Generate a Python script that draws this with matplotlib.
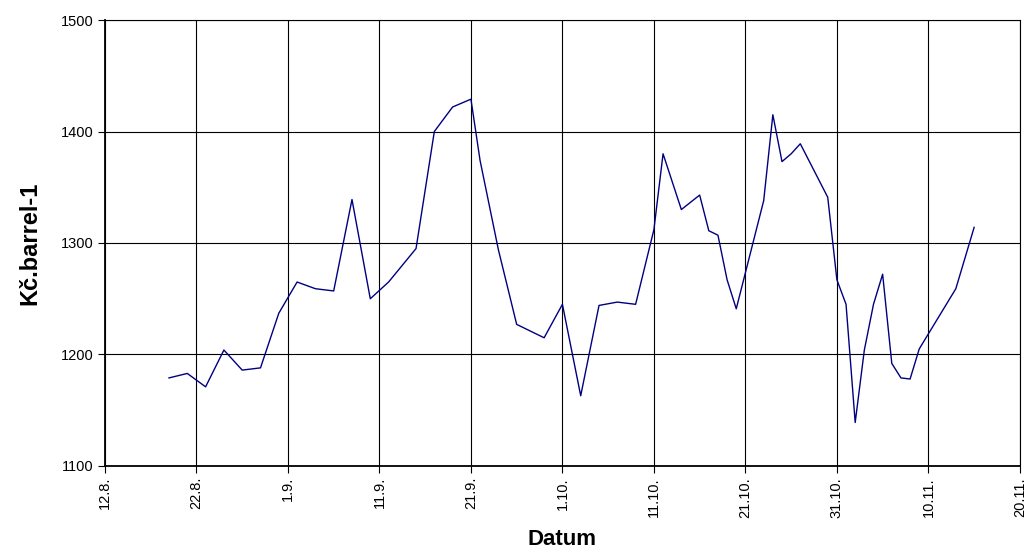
import datetime as dt

import matplotlib
matplotlib.use('Agg')
import matplotlib.pyplot as plt
import matplotlib.dates as mdates
from matplotlib.ticker import FuncFormatter, FixedLocator

plt.rcParams['font.family'] = ['Liberation Sans', 'DejaVu Sans']

# data (day.month.)
dates = ['19.8.', '21.8.', '23.8.', '25.8.', '27.8.', '29.8.', '31.8.',
         '2.9.', '4.9.', '6.9.', '8.9.', '10.9.', '12.9.', '15.9.', '17.9.',
         '19.9.', '21.9.', '22.9.', '24.9.', '26.9.', '29.9.',
         '1.10.', '3.10.', '5.10.', '7.10.', '9.10.', '11.10.', '12.10.',
         '14.10.', '16.10.', '17.10.', '18.10.', '19.10.', '20.10.',
         '23.10.', '24.10.', '25.10.', '26.10.', '27.10.', '30.10.', '31.10.',
         '1.11.', '2.11.', '3.11.', '4.11.', '5.11.', '6.11.', '7.11.',
         '8.11.', '9.11.', '13.11.', '15.11.']
prices = [1179, 1183, 1171, 1204, 1186, 1188, 1237,
          1265, 1259, 1257, 1339, 1250, 1265, 1295, 1400,
          1422, 1429, 1374, 1294, 1227, 1215,
          1245, 1163, 1244, 1247, 1245, 1312, 1380,
          1330, 1343, 1311, 1307, 1267, 1241,
          1338, 1415, 1373, 1380, 1389, 1341, 1267,
          1245, 1139, 1204, 1245, 1272, 1192, 1179,
          1178, 1205, 1259, 1314]
tick_dates = ['12.8.', '22.8.', '1.9.', '11.9.', '21.9.', '1.10.',
              '11.10.', '21.10.', '31.10.', '10.11.', '20.11.']

YEAR = 2001


def to_date(s):
    d, m = s.strip('.').split('.')
    return dt.datetime(YEAR, int(m), int(d))


x = [to_date(s) for s in dates]
ticks = [mdates.date2num(to_date(s)) for s in tick_dates]

fig = plt.figure(figsize=(10.25, 5.59), dpi=100)
ax = fig.add_axes([0.1024, 0.1664, 0.8926, 0.7978])

ax.plot(x, prices, color='#000080', linewidth=1.0)

ax.set_xlim(ticks[0], ticks[-1])
ax.set_ylim(1100, 1500)
ax.xaxis.set_major_locator(FixedLocator(ticks))
ax.xaxis.set_major_formatter(FuncFormatter(
    lambda v, pos: '%d.%d.' % (mdates.num2date(v).day, mdates.num2date(v).month)))
ax.set_yticks([1100, 1200, 1300, 1400, 1500])

ax.grid(True, color='black', linewidth=0.8)
for sp in ax.spines.values():
    sp.set_color('black')
    sp.set_linewidth(0.8)
ax.spines['left'].set_linewidth(1.3)
ax.spines['bottom'].set_linewidth(1.3)

ax.tick_params(axis='both', direction='out', length=5, width=0.8,
               labelsize=10.5, colors='black')
ax.tick_params(axis='x', labelrotation=90, pad=3)
ax.tick_params(axis='y', pad=3)

ax.set_xlabel('Datum', fontsize=16, fontweight='bold', labelpad=8)
ax.set_ylabel('Kč.barrel-1', fontsize=17, fontweight='bold', labelpad=14)

fig.savefig('out.png', dpi=100)
